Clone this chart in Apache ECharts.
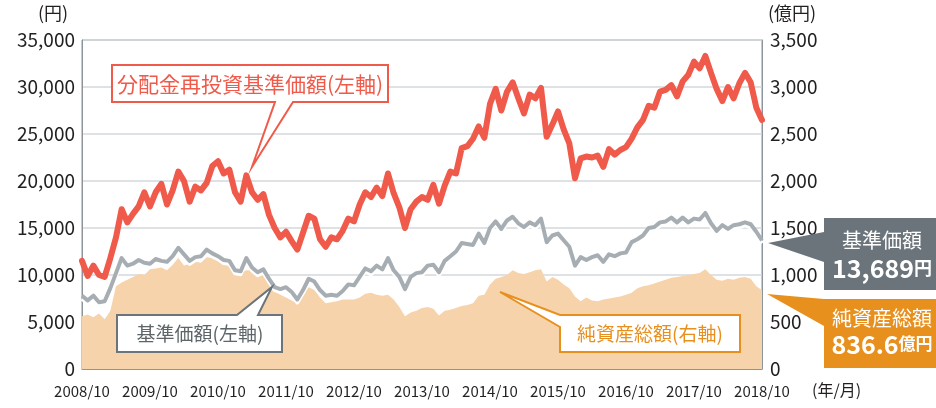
<!DOCTYPE html>
<html>
<head>
<meta charset="utf-8">
<script src="https://cdn.jsdelivr.net/npm/echarts@6/dist/echarts.min.js"></script>
<style>
  html, body { margin: 0; padding: 0; background: #fff; }
  #chart { width: 936px; height: 408px; }
</style>
</head>
<body>
<div id="chart"></div>
<script>
// 2008/10 から 2018/10 まで 月次
const startYear = 2008;
const startMonth = 10;
const months = [];
for (let i = 0; i <= 120; i++) {
  const t = startYear * 12 + (startMonth - 1) + i;
  months.push(Math.floor(t / 12) + '/' + String((t % 12) + 1).padStart(2, '0'));
}

// 分配金再投資基準価額（円）
const reinvestNav = [
  11500, 9900, 11000, 10000, 9800, 11800, 14000, 17000, 15600, 16500,
  17300, 18800, 17300, 18800, 19700, 17500, 19000, 21000, 20000, 17800,
  19400, 19000, 19800, 21600, 22100, 20800, 21200, 18800, 17800, 20600,
  18800, 18000, 18600, 16400, 15000, 14000, 14600, 13600, 12700, 14500,
  16300, 16000, 13800, 13000, 14000, 13800, 14700, 16000, 15700, 17500,
  18800, 18300, 19300, 18400, 20800, 18700, 17200, 15000, 17000, 17800,
  18300, 18000, 19600, 17600, 19500, 21000, 20800, 23500, 23700, 24500,
  25800, 24600, 28200, 29800, 27500, 29500, 30500, 28800, 27200, 29200,
  28800, 29900, 24700, 26000, 27400, 25500, 24000, 20300, 22400, 22600,
  22500, 22700, 21500, 23400, 22800, 23300, 23600, 24500, 25700, 26500,
  28000, 27800, 29500, 29700, 30200, 29000, 30600, 31300, 32700, 32000,
  33300, 31500, 29800, 28500, 30000, 28800, 30400, 31500, 30500, 27800,
  26500
];

// 基準価額（円）
const nav = [
  7800, 7300, 7800, 7100, 7200, 8600, 10200, 11800, 11000, 11200,
  11600, 11300, 11200, 11700, 11500, 11400, 12000, 12900, 12200, 11500,
  11900, 12000, 12700, 12300, 12000, 11600, 11500, 10500, 10400, 11800,
  10800, 10300, 10600, 9600, 8700, 8500, 8700, 8200, 7400, 8400,
  9600, 9300, 8400, 7800, 7900, 7800, 8300, 9000, 8900, 9800,
  10700, 10400, 11000, 10600, 11800, 10500, 9800, 8500, 9800, 10200,
  10300, 11000, 11100, 10300, 11500, 12000, 12500, 13400, 13300, 13200,
  14400, 13400, 15000, 15700, 14900, 15800, 16200, 15500, 15100, 15600,
  15300, 16000, 13500, 14200, 14400, 13700, 13000, 11000, 11900, 11600,
  11900, 12100, 11400, 12200, 12000, 12300, 12400, 13500, 13800, 14200,
  15000, 15100, 15600, 15700, 16100, 15600, 16100, 15600, 16000, 15900,
  16600, 15500, 14700, 15300, 14900, 15300, 15400, 15600, 15400, 14600,
  13689
];

// 純資産総額（億円）
const netAssets = [
  560, 580, 550, 590, 530, 620, 880, 920, 950, 980,
  1010, 1000, 1060, 1070, 1080, 1050, 1110, 1180, 1100, 1120,
  1140, 1130, 1190, 1180, 1160, 1150, 1110, 1060, 1020, 1050,
  1050, 1040, 1020, 900, 830, 790, 760, 730, 700, 790,
  870, 840, 760, 700, 710, 720, 740, 740, 740, 760,
  800, 810, 790, 780, 790, 740, 660, 560, 600, 620,
  650, 660, 640, 570, 620, 630, 650, 670, 680, 700,
  780, 790, 900, 960, 980, 1000, 1050, 1020, 1010, 1030,
  1050, 1060, 930, 980, 950, 900, 860, 770, 720, 760,
  730, 720, 740, 750, 760, 770, 790, 810, 860, 880,
  890, 910, 930, 950, 970, 980, 990, 1000, 1010, 1020,
  1060, 1000, 950, 940, 960, 950, 970, 980, 960, 880,
  836.6
];

const leftTicks = [0, 5000, 10000, 15000, 20000, 25000, 30000, 35000];
const rightTicks = [0, 500, 1000, 1500, 2000, 2500, 3000, 3500];

const chart = echarts.init(document.getElementById('chart'));

const FONT = '"Noto Sans CJK JP", "Noto Sans", sans-serif';
const RED = '#ef5a4b';
const GRAY = '#a7aeb3';
const ORANGE = '#e8901e';
const DARK = '#6b747a';
const fmt = v => v.toLocaleString('en-US');

const option = {
  animation: false,
  textStyle: { fontFamily: FONT },
  grid: {
    left: 82, right: 174, top: 40, bottom: 39,
    show: true, borderColor: '#8c959b', borderWidth: 1
  },
  xAxis: {
    type: 'category',
    data: months,
    boundaryGap: false,
    axisLine: { lineStyle: { color: '#8c959b', width: 1 } },
    axisTick: { interval: 11, inside: true, length: 7, lineStyle: { color: '#8c959b' } },
    axisLabel: {
      interval: 11, margin: 15, fontSize: 15, color: '#231f20', fontFamily: FONT
    },
    splitLine: { show: false }
  },
  yAxis: [
    {
      type: 'value', min: leftTicks[0], max: leftTicks[leftTicks.length - 1], interval: 5000,
      position: 'left',
      axisLine: { show: true, lineStyle: { color: '#8c959b' } },
      axisTick: { show: false },
      axisLabel: { fontSize: 19, color: '#231f20', margin: 7, formatter: fmt, fontFamily: FONT },
      splitLine: { lineStyle: { color: '#d3d8db', width: 1.5 } }
    },
    {
      type: 'value', min: rightTicks[0], max: rightTicks[rightTicks.length - 1], interval: 500,
      position: 'right',
      axisLine: { show: true, lineStyle: { color: '#8c959b' } },
      axisTick: { show: false },
      axisLabel: { fontSize: 19, color: '#231f20', margin: 8, formatter: fmt, fontFamily: FONT },
      splitLine: { show: false }
    }
  ],
  series: [
    {
      name: '純資産総額',
      type: 'line',
      yAxisIndex: 1,
      data: netAssets,
      showSymbol: false,
      lineStyle: { width: 0 },
      areaStyle: { color: '#f7d3ab', opacity: 1 },
      z: 1
    },
    {
      name: '基準価額',
      type: 'line',
      data: nav,
      showSymbol: false,
      lineStyle: {
        color: GRAY, width: 4, join: 'round',
        shadowColor: '#ffffff', shadowOffsetY: 3, shadowBlur: 0
      },
      z: 2
    },
    {
      name: '分配金再投資基準価額',
      type: 'line',
      data: reinvestNav,
      showSymbol: false,
      lineStyle: { color: RED, width: 6, cap: 'round', join: 'round' },
      z: 3
    }
  ],
  graphic: [
    { type: 'text', left: 38, top: 4, style: { text: '(円)', fontSize: 18, fill: '#231f20', fontFamily: FONT } },
    { type: 'text', left: 768, top: 4, style: { text: '(億円)', fontSize: 18, fill: '#231f20', fontFamily: FONT } },
    { type: 'text', left: 812, top: 382, style: { text: '(年/月)', fontSize: 16, fill: '#231f20', fontFamily: FONT } },

    // 分配金再投資基準価額 吹き出し
    {
      type: 'polygon', z: 10,
      shape: { points: [[112, 65], [388, 65], [388, 102], [293, 102], [252, 167], [275, 102], [112, 102]] },
      style: { fill: '#fff', stroke: RED, lineWidth: 2 }
    },
    {
      type: 'text', z: 11, x: 250, y: 84,
      style: { text: '分配金再投資基準価額(左軸)', fontSize: 21, fill: RED, align: 'center', verticalAlign: 'middle', fontFamily: FONT }
    },

    // 基準価額 吹き出し
    {
      type: 'polygon', z: 10,
      shape: { points: [[117, 315], [237, 315], [272, 287], [258, 315], [282, 315], [282, 352], [117, 352]] },
      style: { fill: '#fff', stroke: DARK, lineWidth: 2 }
    },
    {
      type: 'text', z: 11, x: 200, y: 334,
      style: { text: '基準価額(左軸)', fontSize: 19, fill: '#5d6569', align: 'center', verticalAlign: 'middle', fontFamily: FONT }
    },

    // 純資産総額 吹き出し
    {
      type: 'polygon', z: 10,
      shape: { points: [[500, 292], [560, 315], [740, 315], [740, 352], [560, 352], [560, 327]] },
      style: { fill: '#fff', stroke: ORANGE, lineWidth: 2 }
    },
    {
      type: 'text', z: 11, x: 650, y: 334,
      style: { text: '純資産総額(右軸)', fontSize: 19, fill: ORANGE, align: 'center', verticalAlign: 'middle', fontFamily: FONT }
    },

    // 右側 基準価額
    {
      type: 'polygon', z: 10,
      shape: { points: [[768, 243], [824, 232], [824, 218], [940, 218], [940, 290], [824, 290], [824, 262]] },
      style: { fill: DARK }
    },
    {
      type: 'text', z: 11, x: 882, y: 240,
      style: { text: '基準価額', fontSize: 20, fill: '#fff', align: 'center', verticalAlign: 'middle', fontFamily: FONT }
    },
    {
      type: 'text', z: 11, x: 882, y: 268,
      style: {
        text: '{n|13,689}{u|円}', align: 'center', verticalAlign: 'middle',
        rich: {
          n: { fontSize: 25, fontWeight: 'bold', fill: '#fff', fontFamily: FONT },
          u: { fontSize: 18, fontWeight: 'bold', fill: '#fff', fontFamily: FONT }
        }
      }
    },

    // 右側 純資産総額
    {
      type: 'polygon', z: 10,
      shape: { points: [[767, 294], [824, 299], [940, 299], [940, 368], [824, 368], [824, 326]] },
      style: { fill: ORANGE }
    },
    {
      type: 'text', z: 11, x: 882, y: 318,
      style: { text: '純資産総額', fontSize: 20, fill: '#fff', align: 'center', verticalAlign: 'middle', fontFamily: FONT }
    },
    {
      type: 'text', z: 11, x: 882, y: 344,
      style: {
        text: '{n|836.6}{u|億円}', align: 'center', verticalAlign: 'middle',
        rich: {
          n: { fontSize: 25, fontWeight: 'bold', fill: '#fff', fontFamily: FONT },
          u: { fontSize: 17, fontWeight: 'bold', fill: '#fff', fontFamily: FONT }
        }
      }
    }
  ]
};

chart.setOption(option);
</script>
</body>
</html>
